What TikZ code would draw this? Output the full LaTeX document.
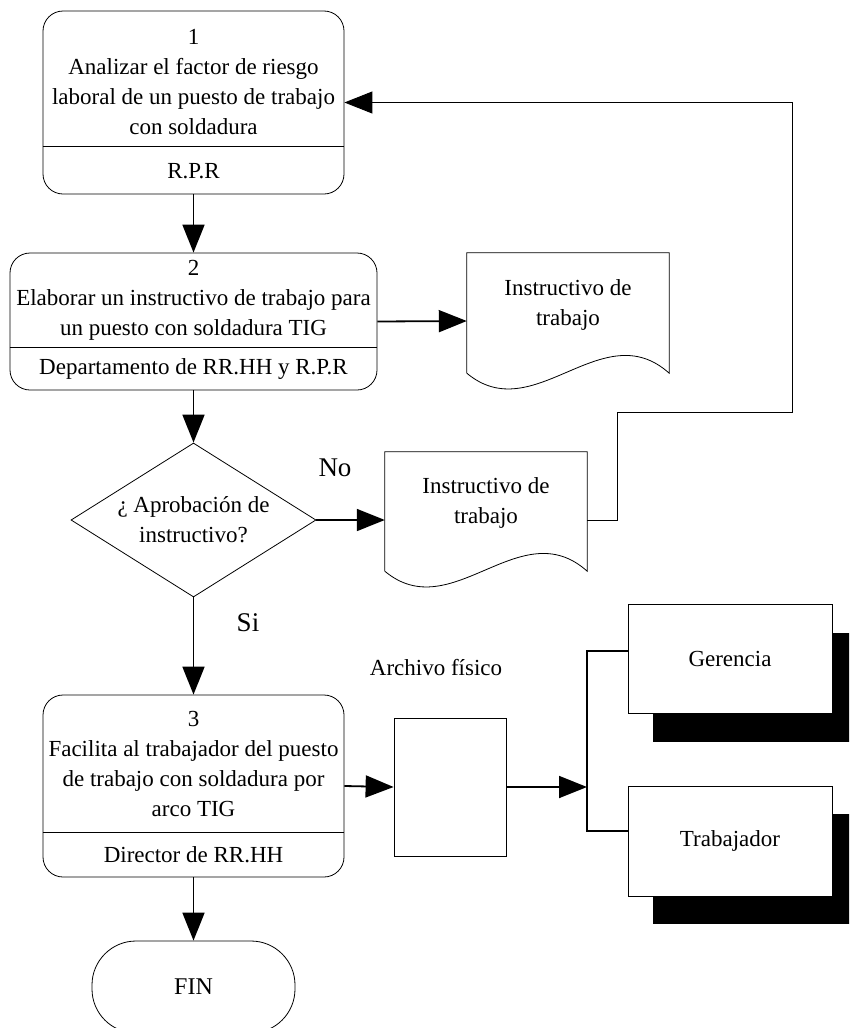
\documentclass[tikz,border=0pt]{standalone}
\usepackage{fontspec}
\setmainfont{Liberation Serif}
\usetikzlibrary{calc,arrows.meta,shapes.geometric,shadows}

\begin{document}
\begin{tikzpicture}[x=1pt,y=-1pt,
		box/.style={draw,line width=0.8pt,rounded corners=20pt,inner sep=0pt},
		txt/.style={align=center,inner sep=0pt,font=\fontsize{23}{30}\selectfont},
		big/.style={inner sep=0pt,font=\fontsize{27}{30}\selectfont},
		flow/.style={line width=1.8pt,-{Triangle[length=28pt,width=22pt]}},
		back/.style={line width=0.9pt,-{Triangle[length=28pt,width=22pt]}},
		sheet/.style={inner sep=0pt,minimum width=202pt,minimum height=136pt},
		dest/.style={draw,line width=0.8pt,fill=white,inner sep=0pt,minimum width=204pt,minimum height=109pt,
			drop shadow={shadow xshift=25pt,shadow yshift=-28pt,opacity=1,fill=black},font=\fontsize{23}{30}\selectfont}]
		\clip (0,0) rectangle (849,1028);
		
		%actividad 1
		\node[box,minimum width=301pt,minimum height=183pt] (a1) at (193.5,102.5) {};
		\draw[line width=0.8pt] (a1.west |- 0,146) -- (a1.east |- 0,146);
		\node[txt] (t1) at (193.5,82) {1\\Analizar el factor de riesgo\\laboral de un puesto de trabajo\\con soldadura};
		\node[txt] (r1) at (193.5,171) {R.P.R};
		
		%actividad 2
		\node[box,minimum width=367pt,minimum height=137pt] (a2) at (193.5,321.5) {};
		\draw[line width=0.8pt] (a2.west |- 0,347) -- (a2.east |- 0,347);
		\node[txt] (t2) at (193.5,300) {2\\Elaborar un instructivo de trabajo para\\un puesto con soldadura TIG};
		\node[txt] (r2) at (193.5,369) {Departamento de RR.HH y R.P.R};
		
		%decision
		\node[diamond,draw,line width=0.8pt,inner sep=0pt,minimum width=245pt,minimum height=154pt] (dec) at (193.5,520) {};
		\node[txt] (q) at (dec) {¿ Aprobación de\\instructivo?};
		
		%actividad 3
		\node[box,minimum width=301pt,minimum height=182pt] (a3) at (193.5,786) {};
		\draw[line width=0.8pt] (a3.west |- 0,832) -- (a3.east |- 0,832);
		\node[txt] (t3) at (193.5,764) {3\\Facilita al trabajador del puesto\\de trabajo con soldadura por\\arco TIG};
		\node[txt] (r3) at (193.5,855) {Director de RR.HH};
		
		%fin
		\node[draw,line width=0.8pt,rounded corners=44pt,minimum width=203pt,minimum height=92pt,font=\fontsize{24}{30}\selectfont] (fin) at (193.5,987) {FIN};
		
		%documentos
		\node[sheet] (doc1) at (568,321) {};
		\draw[line width=0.8pt] ([yshift=16pt]doc1.south west) -- (doc1.north west) -- (doc1.north east) -- ([yshift=16pt]doc1.south east)
			.. controls +(-67,-60) and +(67,56) .. ([yshift=16pt]doc1.south west);
		\node[txt,yshift=16pt] (d1) at (doc1) {Instructivo de\\trabajo};
		
		\node[sheet] (doc2) at (486,520) {};
		\draw[line width=0.8pt] ([yshift=17pt]doc2.south west) -- (doc2.north west) -- (doc2.north east) -- ([yshift=17pt]doc2.south east)
			.. controls +(-67,-60) and +(67,56) .. ([yshift=17pt]doc2.south west);
		\node[txt,yshift=17pt] (d2) at (doc2) {Instructivo de\\trabajo};
		
		%archivo
		\node[draw,line width=0.8pt,inner sep=0pt,minimum width=112pt,minimum height=138pt] (arch) at (450,787) {};
		\node[txt] (la) at (436,668) {Archivo físico};
		\node[dest] (ger) at (730,659) {Gerencia};
		\node[dest,minimum height=110pt] (trab) at (730,841) {Trabajador};
		\coordinate (split) at (587,787);
		
		%flechas:
		\draw[flow] (a1) -- (a2);
		\draw[flow] (a2.east) -- (doc1.west);
		\draw[flow] (a2) -- (dec);
		\draw[flow] (dec.east) -- (doc2.west);
		\draw[flow] (dec) -- (a3);
		\draw[flow] (a3) -- (fin);
		\draw[flow] (a3.east) -- (arch.west);
		\draw[flow] (arch.east) -- (split);
		\draw[line width=1.8pt] ([yshift=8pt]ger.west) -| (split) |- ([yshift=10pt]trab.west);
		
		%vuelta
		\coordinate (ret1) at (617,412);
		\coordinate (ret2) at (792,412);
		\draw[back] (doc2.east) -| (ret1) -- (ret2) |- (a1.east);
		
		\node[big] (no) at (335,468) {No};
		\node[big] (si) at (248,623) {Si};
		
		\end{tikzpicture}
\end{document}
